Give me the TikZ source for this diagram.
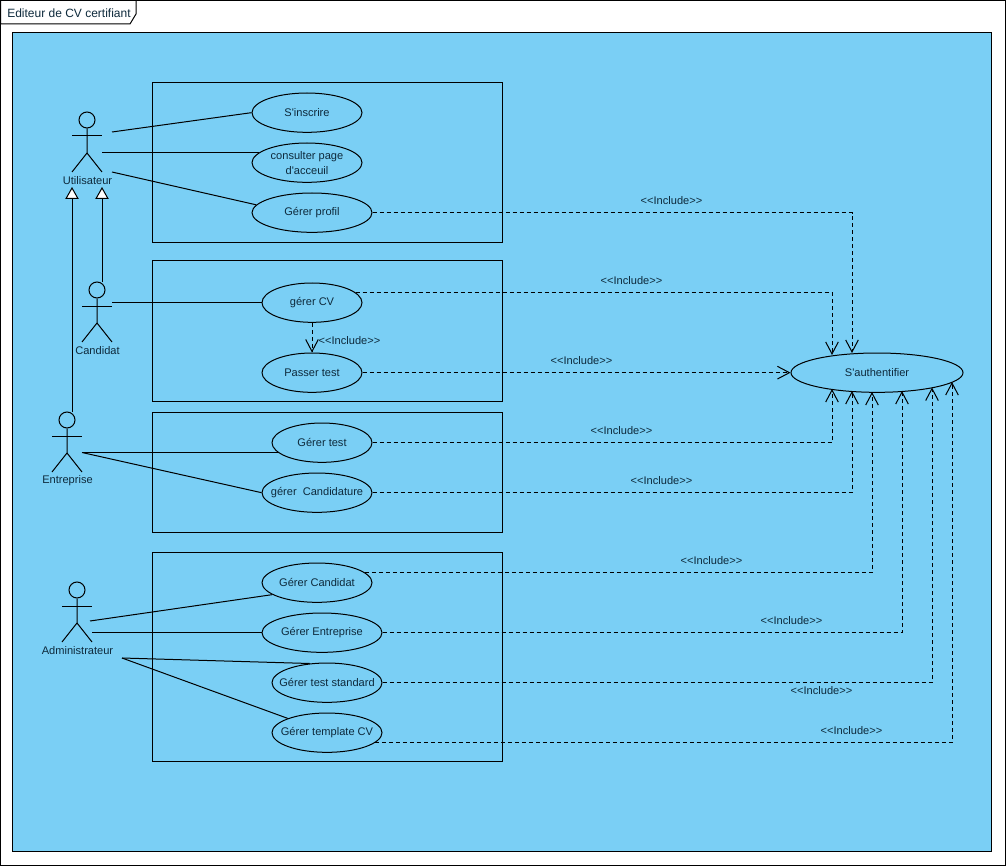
\documentclass[tikz,border=0pt]{standalone}
\usepackage{fontspec}
\setmainfont{Liberation Sans}[Ligatures=TeXOff]
\usetikzlibrary{arrows.meta,shapes.geometric}
\definecolor{skyfill}{HTML}{7ACFF5}
\definecolor{inktext}{HTML}{0E2A3C}
\tikzset{
  ln/.style={draw=black,line width=0.75pt},
  uc/.style={ellipse,ln,inner xsep=-22pt,inner ysep=-9pt,minimum height=29.5pt,yshift=-0.5pt,text=inktext,font=\fontsize{8.3}{11.3}\selectfont,align=center},
  lbl/.style={text=inktext,font=\fontsize{8.3}{10}\selectfont,inner sep=0pt},
  grp/.style={ln},
  inc/.style={ln,dash pattern=on 3pt off 2.25pt,-{Straight Barb[length=9pt,width=9.5pt,line width=0.75pt]}},
  gen/.style={ln,-{Triangle[open,fill=white,length=9pt,width=10pt,line width=0.75pt]}},
  assoc/.style={ln}
}
% \actorfig{name}{x}{y of head}{label}
\newcommand{\actorfig}[4]{%
  \node[circle,ln,minimum size=12pt,inner sep=0pt] (#1) at (#2,#3) {};
  \draw[ln] (#1.south) -- (#2,#3+33) -- (#2-15,#3+52);
  \draw[ln] (#2,#3+33) -- (#2+15,#3+52);
  \draw[ln] (#2-15,#3+16) -- (#2+15,#3+16);
  \node[lbl] (#1lab) at (#2+0.5,#3+61) {#4};
}
\begin{document}
\begin{tikzpicture}[x=0.75pt,y=-0.75pt]
\useasboundingbox (0,0) rectangle (1006,866);
\draw[ln,fill=white] (0.5,0.5) rectangle (1005.5,865.5);
\draw[ln,fill=white] (0.5,0.5) -- (136,0.5) -- (136,14) -- (130,24) -- (0.5,24) -- cycle;
\node[lbl,anchor=west,font=\fontsize{9}{10}\selectfont] (title) at (7,12.8) {Editeur de CV certifiant};
\draw[ln,fill=skyfill] (12.5,32.5) rectangle (991.5,851.5);

\draw[grp] (152.5,82.5) rectangle (502.5,242.5);
\draw[grp] (152.5,260.5) rectangle (502.5,401.5);
\draw[grp] (152.5,412.5) rectangle (502.5,532.5);
\draw[grp] (152.5,552.5) rectangle (502.5,761.5);

\node[uc,minimum width=82.5pt] (ins) at (307,112) {S'inscrire};
\node[uc,minimum width=82.5pt] (cons) at (307,162) {consulter page\\d'acceuil};
\node[uc,minimum width=90pt] (prof) at (312,212) {Gérer profil};
\node[uc,minimum width=75pt] (gcv) at (312,302) {gérer CV};
\node[uc,minimum width=75pt] (ptest) at (312,372) {Passer test};
\node[uc,minimum width=75pt] (gtest) at (322,442) {Gérer test};
\node[uc,minimum width=82.5pt] (gcand) at (317,492) {gérer\ \ Candidature};
\node[uc,minimum width=82.5pt] (gcat) at (317,582) {Gérer Candidat};
\node[uc,minimum width=90pt] (gent) at (322,632) {Gérer Entreprise};
\node[uc,minimum width=82.5pt] (gstd) at (327,682) {Gérer test standard};
\node[uc,minimum width=82.5pt] (gtpl) at (327,732) {Gérer template CV};
\node[uc,minimum width=129pt] (auth) at (877,372) {S'authentifier};

\actorfig{util}{87}{120}{Utilisateur}
\actorfig{cand}{97}{290}{Candidat}
\actorfig{entr}{67}{420}{Entreprise}
\actorfig{admin}{77}{590}{Administrateur}

\coordinate (ua) at (112,132);
\coordinate (ub) at (102,152.5);
\coordinate (uc1) at (112,172);
\coordinate (ca) at (112,302.5);
\coordinate (ea) at (82,452.5);
\coordinate (aa) at (90,621);
\coordinate (ab) at (92,632.5);
\coordinate (ac) at (122,658);
\coordinate (ug1) at (72,187);
\coordinate (ug2) at (102,187);
\coordinate (eg) at (72,412);
\coordinate (cg) at (102,282);

\draw[assoc] (ua) -- (ins.west);
\draw[assoc] (ub) -- (ub -| cons.168);
\draw[assoc] (uc1) -- (prof.172);
\draw[assoc] (ca) -- (ca -| gcv.west);
\draw[assoc] (ea) -- (ea -| gtest.193);
\draw[assoc] (ea) -- (gcand.west);
\draw[assoc] (aa) -- (gcat.195);
\draw[assoc] (ab) -- (ab -| gent.west);
\draw[assoc] (ac) -- (gstd.132);
\draw[assoc] (ac) -- (gtpl.160);
\draw[gen] (eg) -- (ug1);
\draw[gen] (cg) -- (ug2);

\coordinate (t832) at (832,355);
\coordinate (t852) at (852,353);
\coordinate (b832) at (832,389);
\coordinate (b852) at (852,391);
\coordinate (b872) at (872,392);
\coordinate (b902) at (902,391);
\coordinate (b932) at (932,387.5);
\coordinate (b952) at (952,382);

\draw[inc] (prof.east) -| (t852);
\draw[inc] (gcv.13) -| (t832);
\draw[inc] (gcv.south) -- (ptest.north);
\draw[inc] (ptest.east) -- (auth.west);
\draw[inc] (gtest.east) -| (b832);
\draw[inc] (gcand.east) -| (b852);
\draw[inc] (gcat.12) -| (b872);
\draw[inc] (gent.east) -| (b902);
\draw[inc] (gstd.east) -| (b932);
\draw[inc] (gtpl.-12) -| (b952);

\node[lbl] (l1) at (671.5,200.5) {<{}<Include>{}>};
\node[lbl] (l2) at (631.5,280.5) {<{}<Include>{}>};
\node[lbl] (l3) at (349.5,340.5) {<{}<Include>{}>};
\node[lbl] (l4) at (581.5,360.5) {<{}<Include>{}>};
\node[lbl] (l5) at (621.5,430.5) {<{}<Include>{}>};
\node[lbl] (l6) at (661.5,480.5) {<{}<Include>{}>};
\node[lbl] (l7) at (711.5,560.5) {<{}<Include>{}>};
\node[lbl] (l8) at (791.5,620.5) {<{}<Include>{}>};
\node[lbl] (l9) at (821.5,690.5) {<{}<Include>{}>};
\node[lbl] (l10) at (851.5,730.5) {<{}<Include>{}>};
\end{tikzpicture}
\end{document}
